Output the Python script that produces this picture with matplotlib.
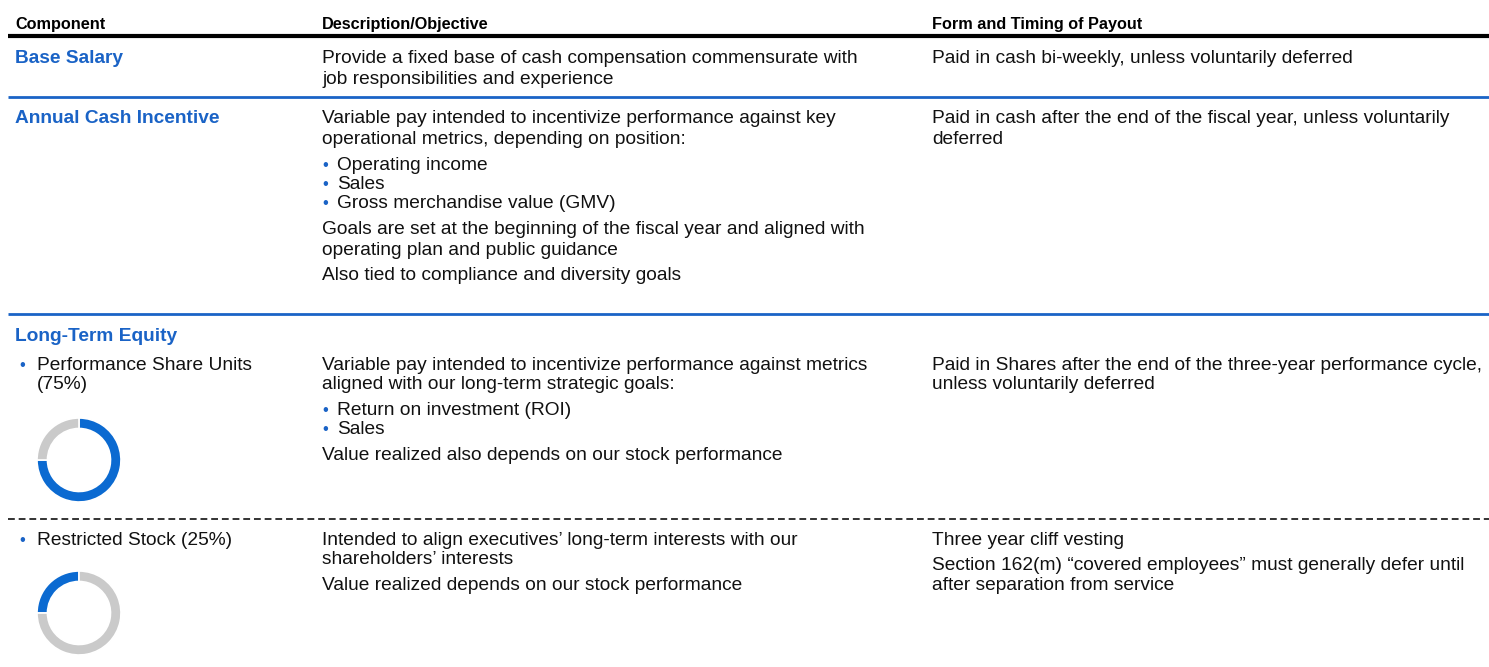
import matplotlib.pyplot as plt

# === DATA ===
headers = ["Component", "Description/Objective", "Form and Timing of Payout"]

base_name = "Base Salary"
base_desc = ["Provide a fixed base of cash compensation commensurate with",
             "job responsibilities and experience"]
base_pay = ["Paid in cash bi-weekly, unless voluntarily deferred"]

aci_name = "Annual Cash Incentive"
aci_desc = ["Variable pay intended to incentivize performance against key",
            "operational metrics, depending on position:"]
aci_bullets = ["Operating income", "Sales", "Gross merchandise value (GMV)"]
aci_goals = ["Goals are set at the beginning of the fiscal year and aligned with",
             "operating plan and public guidance"]
aci_also = "Also tied to compliance and diversity goals"
aci_pay = ["Paid in cash after the end of the fiscal year, unless voluntarily",
           "deferred"]

lte_name = "Long-Term Equity"
psu_name = ["Performance Share Units", "(75%)"]
psu_desc = ["Variable pay intended to incentivize performance against metrics",
            "aligned with our long-term strategic goals:"]
psu_bullets = ["Return on investment (ROI)", "Sales"]
psu_value = "Value realized also depends on our stock performance"
psu_pay = ["Paid in Shares after the end of the three-year performance cycle,",
           "unless voluntarily deferred"]
psu_share = [75, 25]

rs_name = "Restricted Stock (25%)"
rs_desc = ["Intended to align executives\u2019 long-term interests with our",
           "shareholders\u2019 interests"]
rs_value = "Value realized depends on our stock performance"
rs_pay1 = "Three year cliff vesting"
rs_pay2 = ["Section 162(m) \u201ccovered employees\u201d must generally defer until",
           "after separation from service"]
rs_share = [25, 75]

# === STYLE ===
BLUE = "#1a63c6"
RING_BLUE = "#0b6ad1"
RING_GRAY = "#cacaca"
TXT = "#111111"
FS = 13.8
HFS = 11.7
plt.rcParams["font.family"] = ["Liberation Sans", "DejaVu Sans"]

W, H = 1489, 667
fig = plt.figure(figsize=(W / 100, H / 100), dpi=100)
ax = fig.add_axes([0, 0, 1, 1])
ax.set_xlim(0, W)
ax.set_ylim(H, 0)
ax.axis("off")

X1, X2, X3 = 15, 322, 932
LH = 21   # wrapped line height
BH = 19   # bullet line height


def lines(x, y, items, step=LH, **kw):
    for i, s in enumerate(items):
        ax.text(x, y + i * step, s, fontsize=FS, color=TXT, va="baseline", **kw)


def bullets(x, y, items, step=BH):
    for i, s in enumerate(items):
        ax.text(x, y + i * step, "\u2022", fontsize=FS - 2, color=BLUE, va="baseline")
        ax.text(x + 15, y + i * step, s, fontsize=FS, color=TXT, va="baseline")


# header
for x, h in zip([X1, X2, X3], headers):
    ax.text(x, 29, h, fontsize=HFS, fontweight="bold", color="black", va="baseline")
ax.plot([8, W], [36, 36], color="black", lw=3, solid_capstyle="butt")

# base salary
ax.text(X1, 63, base_name, fontsize=FS, fontweight="bold", color=BLUE, va="baseline")
lines(X2, 63, base_desc)
lines(X3, 63, base_pay)
ax.plot([8, W], [97, 97], color=BLUE, lw=2, solid_capstyle="butt")

# annual cash incentive
ax.text(X1, 123, aci_name, fontsize=FS, fontweight="bold", color=BLUE, va="baseline")
lines(X2, 123, aci_desc)
bullets(X2, 170, aci_bullets)
lines(X2, 234, aci_goals)
lines(X2, 280, [aci_also])
lines(X3, 123, aci_pay)
ax.plot([8, W], [314, 314], color=BLUE, lw=2, solid_capstyle="butt")

# long-term equity / PSU
ax.text(X1, 341, lte_name, fontsize=FS, fontweight="bold", color=BLUE, va="baseline")
ax.text(19, 370, "\u2022", fontsize=FS - 2, color=BLUE, va="baseline")
lines(37, 370, psu_name, step=19)
lines(X2, 370, psu_desc, step=19)
bullets(X2, 415, psu_bullets)
lines(X2, 460, [psu_value])
lines(X3, 370, psu_pay, step=19)
ax.plot([8, W], [519, 519], color="#333333", lw=1.4, ls=(0, (3.5, 2)))

# restricted stock
ax.text(19, 545, "\u2022", fontsize=FS - 2, color=BLUE, va="baseline")
lines(37, 545, [rs_name])
lines(X2, 545, rs_desc, step=19)
lines(X2, 590, [rs_value])
lines(X3, 545, [rs_pay1])
lines(X3, 570, rs_pay2, step=20)


# donuts
def donut(cx, cy, r, vals, counterclock):
    dax = fig.add_axes([(cx - r) / W, 1 - (cy + r) / H, 2 * r / W, 2 * r / H])
    dax.pie(vals, colors=[RING_BLUE, RING_GRAY], startangle=90, counterclock=counterclock,
            radius=1, wedgeprops=dict(width=0.25, edgecolor="white", linewidth=1.2))
    dax.set_xlim(-1, 1)
    dax.set_ylim(-1, 1)
    dax.set_aspect("auto")
    dax.axis("off")


donut(79, 460, 42, psu_share, counterclock=False)
donut(79, 613, 42, rs_share, counterclock=True)

fig.savefig("out.png", dpi=100)
